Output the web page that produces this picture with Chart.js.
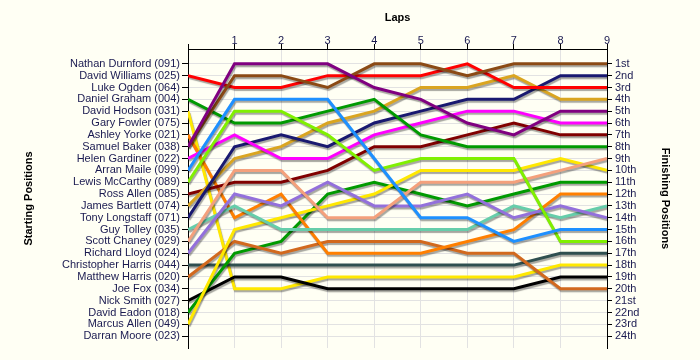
<!DOCTYPE html>
<html>
<head>
<meta charset="utf-8">
<script src="https://cdn.jsdelivr.net/npm/chart.js@4/dist/chart.umd.min.js"></script>
<style>
  body { margin: 0; background: #fffff4; }
  #wrap { width: 700px; height: 360px; }
</style>
</head>
<body>
<div id="wrap"><canvas id="lapChart"></canvas></div>
<script>
const laps = [0, 1, 2, 3, 4, 5, 6, 7, 8, 9];

const startLabels = [
  "Nathan Durnford (091)", "David Williams (025)", "Luke Ogden (064)", "Daniel Graham (004)",
  "David Hodson (031)", "Gary Fowler (075)", "Ashley Yorke (021)", "Samuel Baker (038)",
  "Helen Gardiner (022)", "Arran Maile (099)", "Lewis McCarthy (089)", "Ross Allen (085)",
  "James Bartlett (074)", "Tony Longstaff (071)", "Guy Tolley (035)", "Scott Chaney (029)",
  "Richard Lloyd (024)", "Christopher Harris (044)", "Matthew Harris (020)", "Joe Fox (034)",
  "Nick Smith (027)", "David Eadon (018)", "Marcus Allen (049)", "Darran Moore (023)"
];

const finishLabels = [
  "1st", "2nd", "3rd", "4th", "5th", "6th", "7th", "8th", "9th", "10th", "11th", "12th",
  "13th", "14th", "15th", "16th", "17th", "18th", "19th", "20th", "21st", "22nd", "23rd", "24th"
];

// position of each car at the end of each lap (lap 0 = grid)
const durnford  = [8, 1, 1, 1, 3, 4, 6, 7, 5, 5];
const baker     = [8, 2, 2, 3, 1, 1, 2, 1, 1, 1];
const williams  = [2, 3, 3, 2, 2, 2, 1, 3, 3, 3];
const maile     = [10, 4, 4, 4, 9, 14, 14, 16, 15, 15];
const mccarthy  = [11, 5, 5, 7, 10, 9, 9, 9, 16, 16];
const graham    = [4, 6, 6, 5, 4, 7, 8, 8, 8, 8];
const gardiner  = [9, 7, 9, 9, 7, 6, 5, 5, 6, 6];
const longstaff = [14, 8, 7, 8, 6, 5, 4, 4, 2, 2];
const bartlett  = [13, 9, 8, 6, 5, 3, 3, 2, 4, 4];
const chaney    = [16, 10, 10, 14, 14, 11, 11, 11, 10, 9];
const rallen    = [12, 11, 11, 10, 8, 8, 7, 6, 7, 7];
const lloyd     = [17, 12, 13, 11, 13, 13, 12, 14, 13, 14];
const tolley    = [15, 13, 15, 15, 15, 15, 15, 13, 14, 13];
const yorke     = [7, 14, 12, 17, 17, 17, 16, 15, 12, 12];
const mallen    = [23, 15, 14, 13, 12, 10, 10, 10, 9, 10];
const mharris   = [19, 16, 17, 16, 16, 16, 17, 17, 20, 20];
const eadon     = [22, 17, 16, 12, 11, 12, 13, 12, 11, 11];
const charris   = [18, 18, 18, 18, 18, 18, 18, 18, 17, 17];
const smith     = [21, 19, 19, 20, 20, 20, 20, 20, 19, 19];
const hodson    = [5, 20, 20, 19, 19, 19, 19, 19, 18, 18];

const cars = [
  ["Nathan Durnford", durnford, "#800080"],
  ["Samuel Baker", baker, "#8b4a14"],
  ["David Williams", williams, "#ff0000"],
  ["Arran Maile", maile, "#1e90ff"],
  ["Lewis McCarthy", mccarthy, "#80f000"],
  ["Daniel Graham", graham, "#009a00"],
  ["Helen Gardiner", gardiner, "#ff00ff"],
  ["Tony Longstaff", longstaff, "#191970"],
  ["James Bartlett", bartlett, "#daa520"],
  ["Scott Chaney", chaney, "#f4a07c"],
  ["Ross Allen", rallen, "#800000"],
  ["Richard Lloyd", lloyd, "#9370db"],
  ["Guy Tolley", tolley, "#66cdaa"],
  ["Ashley Yorke", yorke, "#ff7f00"],
  ["Marcus Allen", mallen, "#ffe800"],
  ["Matthew Harris", mharris, "#d2691e"],
  ["David Eadon", eadon, "#009a00"],
  ["Christopher Harris", charris, "#2f4f4f"],
  ["Nick Smith", smith, "#000000"],
  ["David Hodson", hodson, "#ffe800"]
];

const positions = finishLabels.map((_, i) => i + 1);
const textColor = "#1a1a50";
const font = { family: "'Liberation Sans', Arial, sans-serif", size: 11 };
const boldFont = { family: "'Liberation Sans', Arial, sans-serif", size: 11, weight: "bold" };

// soft drop shadow under every line
const lineShadow = {
  id: "lineShadow",
  beforeDatasetsDraw(chart) {
    const c = chart.ctx;
    c.save();
    c.shadowColor = "rgba(0,0,0,0.35)";
    c.shadowOffsetX = 1;
    c.shadowOffsetY = 2;
    c.shadowBlur = 1;
  },
  afterDatasetsDraw(chart) {
    chart.ctx.restore();
  }
};

const bg = {
  id: "bg",
  beforeDraw(chart) {
    const c = chart.ctx;
    c.save();
    c.fillStyle = "#fffff4";
    c.fillRect(0, 0, chart.width, chart.height);
    c.restore();
  }
};

new Chart(document.getElementById("lapChart"), {
  type: "line",
  data: {
    datasets: cars.map(([name, pos, color]) => ({
      label: name,
      data: laps.map((l, i) => ({ x: l, y: pos[i] })),
      borderColor: color,
      borderWidth: 3,
      pointRadius: 0,
      tension: 0,
      fill: false
    }))
  },
  options: {
    responsive: true,
    maintainAspectRatio: false,
    animation: false,
    layout: { padding: { bottom: 12 } },
    plugins: { legend: { display: false }, tooltip: { enabled: false } },
    scales: {
      x: {
        type: "linear",
        position: "top",
        min: 0,
        max: 9,
        afterBuildTicks: s => { s.ticks = laps.map(v => ({ value: v })); },
        afterFit: s => { s.height = 49; },
        ticks: {
          color: textColor,
          font: font,
          padding: -4,
          callback: v => (v === 0 ? "" : v)
        },
        grid: { color: "#e2e2e2", tickColor: "#000", tickLength: 5 },
        border: { color: "#000" },
        title: { display: true, text: "Laps", color: "#000", font: boldFont, padding: { top: 11 } }
      },
      y: {
        type: "linear",
        position: "left",
        reverse: true,
        min: -0.25,
        max: 25,
        afterBuildTicks: s => { s.ticks = positions.map(v => ({ value: v })); },
        afterFit: s => { s.width = 188; },
        ticks: {
          color: textColor,
          font: font,
          padding: 2,
          autoSkip: false,
          callback: v => startLabels[v - 1]
        },
        grid: { color: "#e2e2e2", tickColor: "#000", tickLength: 6 },
        border: { color: "#000" },
        title: { display: true, text: "Starting Positions", color: "#000", font: boldFont, padding: { top: 22 } }
      },
      y2: {
        type: "linear",
        position: "right",
        reverse: true,
        min: -0.25,
        max: 25,
        afterBuildTicks: s => { s.ticks = positions.map(v => ({ value: v })); },
        afterFit: s => { s.width = 93; },
        ticks: {
          color: textColor,
          font: font,
          padding: 3,
          autoSkip: false,
          callback: v => finishLabels[v - 1]
        },
        grid: { drawOnChartArea: false, tickColor: "#000", tickLength: 5 },
        border: { color: "#000" },
        title: { display: true, text: "Finishing Positions", color: "#000", font: boldFont, padding: { top: 28 } }
      }
    }
  },
  plugins: [bg, lineShadow]
});
</script>
</body>
</html>
